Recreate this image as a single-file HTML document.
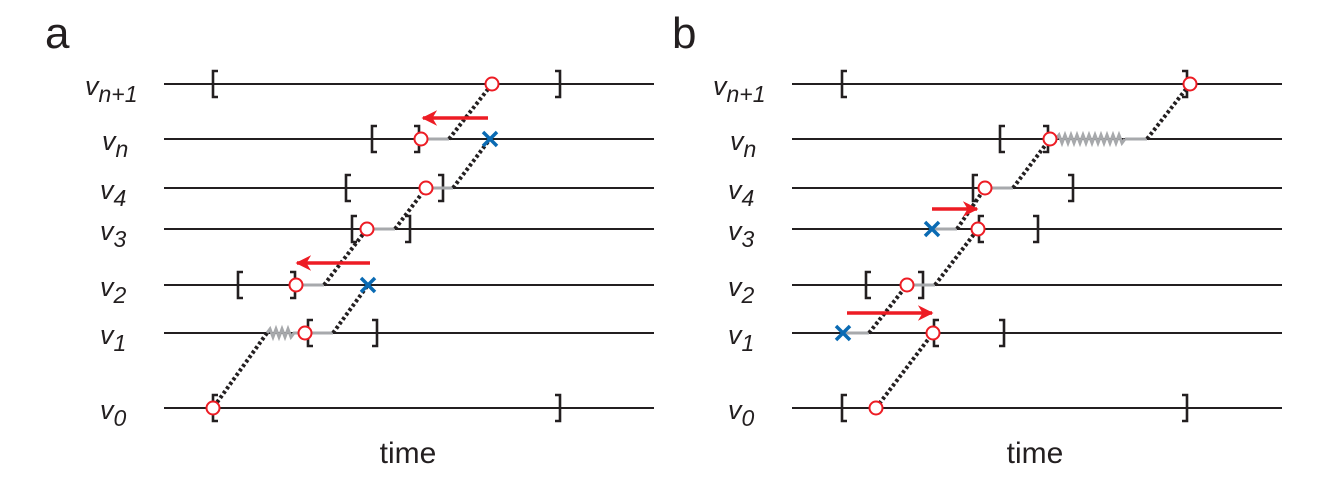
<!DOCTYPE html>
<html><head><meta charset="utf-8"><style>
html,body{margin:0;padding:0;background:#fff;}
svg{display:block;}
text{font-family:"Liberation Sans",sans-serif;fill:#231f20;}
.ln{stroke:#231f20;stroke-width:2;}
.br{stroke:#231f20;stroke-width:2.6;fill:none;}
.g{stroke:#a7a9ac;stroke-width:3;fill:none;}
.d{stroke:#231f20;stroke-width:4;stroke-dasharray:3 2.5;fill:none;}
.c{stroke:#ed1c24;stroke-width:2;fill:#fff;}
.x{stroke:#0a6ab3;stroke-width:3.5;}
.ar{stroke:#ed1c24;stroke-width:3.5;}
.lab{font-style:italic;font-size:27px;}
.sub{font-style:italic;font-size:23px;}
</style></head><body>
<svg width="1332" height="490" viewBox="0 0 1332 490" xmlns="http://www.w3.org/2000/svg">
<defs>
<marker id="ah" viewBox="0 0 10 10" refX="9" refY="5" markerWidth="4.5" markerHeight="4.5" orient="auto-start-reverse" markerUnits="strokeWidth"><path d="M0,0 L10,5 L0,10 L3,5 z" fill="#ed1c24"/></marker>
</defs>
<text x="45" y="48" font-size="44">a</text>
<text x="672" y="48" font-size="44">b</text>
<text x="408" y="463" font-size="30" text-anchor="middle">time</text>
<text x="1035" y="463" font-size="30" text-anchor="middle">time</text>

<g id="labels">
<text x="85" y="95" class="lab">v<tspan class="sub" dy="7">n+1</tspan></text>
<text x="102" y="150" class="lab">v<tspan class="sub" dy="7">n</tspan></text>
<text x="100" y="199" class="lab">v<tspan class="sub" dy="7">4</tspan></text>
<text x="100" y="240" class="lab">v<tspan class="sub" dy="7">3</tspan></text>
<text x="100" y="296" class="lab">v<tspan class="sub" dy="7">2</tspan></text>
<text x="100" y="344" class="lab">v<tspan class="sub" dy="7">1</tspan></text>
<text x="100" y="419" class="lab">v<tspan class="sub" dy="7">0</tspan></text>
</g>
<g transform="translate(628,0)">
<text x="85" y="95" class="lab">v<tspan class="sub" dy="7">n+1</tspan></text>
<text x="102" y="150" class="lab">v<tspan class="sub" dy="7">n</tspan></text>
<text x="100" y="199" class="lab">v<tspan class="sub" dy="7">4</tspan></text>
<text x="100" y="240" class="lab">v<tspan class="sub" dy="7">3</tspan></text>
<text x="100" y="296" class="lab">v<tspan class="sub" dy="7">2</tspan></text>
<text x="100" y="344" class="lab">v<tspan class="sub" dy="7">1</tspan></text>
<text x="100" y="419" class="lab">v<tspan class="sub" dy="7">0</tspan></text>
</g>

<g class="ln">
<line x1="164" y1="84" x2="654" y2="84"/><line x1="164" y1="139" x2="654" y2="139"/>
<line x1="164" y1="188" x2="654" y2="188"/><line x1="164" y1="229" x2="654" y2="229"/>
<line x1="164" y1="285" x2="654" y2="285"/><line x1="164" y1="333" x2="654" y2="333"/>
<line x1="164" y1="408" x2="654" y2="408"/>
<line x1="792" y1="84" x2="1282" y2="84"/><line x1="792" y1="139" x2="1282" y2="139"/>
<line x1="792" y1="188" x2="1282" y2="188"/><line x1="792" y1="229" x2="1282" y2="229"/>
<line x1="792" y1="285" x2="1282" y2="285"/><line x1="792" y1="333" x2="1282" y2="333"/>
<line x1="792" y1="408" x2="1282" y2="408"/>
</g>

<g class="br">
<path d="M218,71 h-5 v26 h5"/><path d="M555,71 h5 v26 h-5"/>
<path d="M377,126 h-5 v26 h5"/><path d="M414,126 h5 v26 h-5"/>
<path d="M351,175 h-5 v26 h5"/><path d="M438,175 h5 v26 h-5"/>
<path d="M357,216 h-5 v26 h5"/><path d="M405,216 h5 v26 h-5"/>
<path d="M243,272 h-5 v26 h5"/><path d="M290,272 h5 v26 h-5"/>
<path d="M313,320 h-5 v26 h5"/><path d="M372,320 h5 v26 h-5"/>
<path d="M218,395 h-5 v26 h5"/><path d="M555,395 h5 v26 h-5"/>
</g>
<g class="br">
<path d="M847,71 h-5 v26 h5"/><path d="M1182,71 h5 v26 h-5"/>
<path d="M1005,126 h-5 v26 h5"/><path d="M1043,126 h5 v26 h-5"/>
<path d="M978,175 h-5 v26 h5"/><path d="M1068,175 h5 v26 h-5"/>
<path d="M984,216 h-5 v26 h5"/><path d="M1033,216 h5 v26 h-5"/>
<path d="M871,272 h-5 v26 h5"/><path d="M918,272 h5 v26 h-5"/>
<path d="M939,320 h-5 v26 h5"/><path d="M999,320 h5 v26 h-5"/>
<path d="M847,395 h-5 v26 h5"/><path d="M1182,395 h5 v26 h-5"/>
</g>

<g class="g">
<line x1="421" y1="139" x2="449" y2="139"/>
<line x1="426" y1="188" x2="453" y2="188"/>
<line x1="367" y1="229" x2="395" y2="229"/>
<line x1="296" y1="285" x2="324" y2="285"/>
<line x1="305" y1="333" x2="333" y2="333"/>
<path d="M267,333 l3,-4 l3,8 l3,-8 l3,8 l3,-8 l3,8 l3,-8 l3,8 l3,-4 h4"/>
<line x1="1125" y1="139" x2="1147" y2="139"/>
<path d="M1056,139 l3,-4 l3,8 l3,-8 l3,8 l3,-8 l3,8 l3,-8 l3,8 l3,-8 l3,8 l3,-8 l3,8 l3,-8 l3,8 l3,-8 l3,8 l3,-8 l3,8 l3,-8 l3,8 l3,-8 l3,8 l3,-4"/>
<line x1="985" y1="188" x2="1013" y2="188"/>
<line x1="932" y1="229" x2="957" y2="229"/>
<line x1="907" y1="285" x2="935" y2="285"/>
<line x1="843" y1="333" x2="869" y2="333"/>
</g>

<g class="d">
<line x1="449" y1="139" x2="492" y2="84"/>
<line x1="453" y1="188" x2="490" y2="139"/>
<line x1="395" y1="229" x2="426" y2="188"/>
<line x1="324" y1="285" x2="367" y2="229"/>
<line x1="333" y1="333" x2="368" y2="285"/>
<line x1="267" y1="333" x2="213" y2="408"/>
<line x1="1147" y1="139" x2="1190" y2="84"/>
<line x1="1013" y1="188" x2="1050" y2="139"/>
<line x1="957" y1="229" x2="985" y2="188"/>
<line x1="935" y1="285" x2="978" y2="229"/>
<line x1="869" y1="333" x2="907" y2="285"/>
<line x1="876" y1="408" x2="933" y2="333"/>
</g>

<line class="ar" x1="488" y1="118" x2="423" y2="118" marker-end="url(#ah)"/>
<line class="ar" x1="370" y1="263" x2="297" y2="263" marker-end="url(#ah)"/>
<line class="ar" x1="932" y1="209" x2="977" y2="209" marker-end="url(#ah)"/>
<line class="ar" x1="847" y1="313" x2="932" y2="313" marker-end="url(#ah)"/>

<g class="x">
<path d="M483,132 l14,14 M497,132 l-14,14"/>
<path d="M361,278 l14,14 M375,278 l-14,14"/>
<path d="M925,222 l14,14 M939,222 l-14,14"/>
<path d="M836,326 l14,14 M850,326 l-14,14"/>
</g>

<g class="c">
<circle cx="492" cy="84" r="6.5"/><circle cx="421" cy="139" r="6.5"/>
<circle cx="426" cy="188" r="6.5"/><circle cx="367" cy="229" r="6.5"/>
<circle cx="296" cy="285" r="6.5"/><circle cx="305" cy="333" r="6.5"/>
<circle cx="213" cy="408" r="6.5"/>
<circle cx="1190" cy="84" r="6.5"/><circle cx="1050" cy="139" r="6.5"/>
<circle cx="985" cy="188" r="6.5"/><circle cx="978" cy="229" r="6.5"/>
<circle cx="907" cy="285" r="6.5"/><circle cx="933" cy="333" r="6.5"/>
<circle cx="876" cy="408" r="6.5"/>
</g>
</svg>
</body></html>
